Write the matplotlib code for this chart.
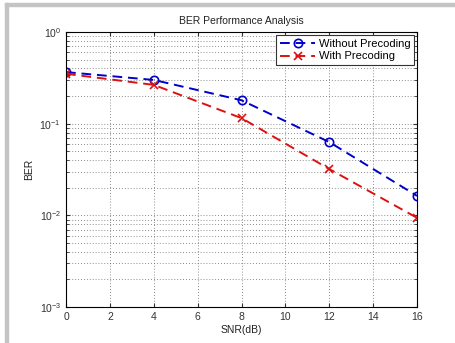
import matplotlib
matplotlib.use("Agg")
import matplotlib.pyplot as plt
from matplotlib.patches import Rectangle
from matplotlib.ticker import LogLocator, NullFormatter

plt.rcParams["font.family"] = ["Liberation Sans", "DejaVu Sans"]
plt.rcParams["mathtext.fontset"] = "custom"
plt.rcParams["mathtext.rm"] = "Liberation Sans"
plt.rcParams["mathtext.it"] = "Liberation Sans"

snr = [0, 4, 8, 12, 16]
ber_without = [0.365, 0.30, 0.180, 0.063, 0.0163]
ber_with = [0.350, 0.265, 0.115, 0.032, 0.0094]
xticks = [0, 2, 4, 6, 8, 10, 12, 14, 16]

fig = plt.figure(figsize=(4.55, 3.43), dpi=100)
fig.patch.set_facecolor("white")

# gray frame of the screenshot
fig.patches.append(Rectangle((5 / 455, 0), 3 / 455, 340 / 343, transform=fig.transFigure,
                             color="#c4c4c4", zorder=0))
fig.patches.append(Rectangle((5 / 455, 337 / 343), 450 / 455, 3 / 343, transform=fig.transFigure,
                             color="#c4c4c4", zorder=0))

ax = fig.add_axes([66 / 455, 36 / 343, 351 / 455, 275 / 343])
ax.semilogy(snr, ber_without, "--o", color="#0000cc", lw=1.4, ms=6, mfc="none",
            mew=1.2, label="Without Precoding", dashes=(5, 3))
ax.semilogy(snr, ber_with, "--x", color="#dd1111", lw=1.4, ms=6, mew=1.2,
            label="With Precoding", dashes=(5, 3))

ax.set_xlim(0, 16)
ax.set_ylim(1e-3, 1)
ax.set_xticks(xticks)
ax.yaxis.set_major_locator(LogLocator(base=10, numticks=10))
ax.yaxis.set_minor_locator(LogLocator(base=10, subs=range(2, 10), numticks=20))
ax.yaxis.set_minor_formatter(NullFormatter())
ax.tick_params(which="both", direction="in", top=True, right=True, labelsize=7.5,
               colors="#333333", length=3)
ax.tick_params(which="minor", length=2)
ax.grid(True, which="major", ls=(0, (1, 2.5)), color="#666666", lw=0.6)
ax.grid(True, which="minor", axis="y", ls=(0, (1, 2.5)), color="#666666", lw=0.6)
for s in ax.spines.values():
    s.set_linewidth(0.8)

ax.set_title("BER Performance Analysis", fontsize=7.5, color="#222222", pad=6)
ax.set_xlabel("SNR(dB)", fontsize=7.5, color="#222222", labelpad=2)
ax.set_ylabel("BER", fontsize=7.5, color="#222222", labelpad=4)

leg = ax.legend(loc="upper right", fontsize=8, fancybox=False, framealpha=1,
                edgecolor="#333333", handlelength=3.2, borderaxespad=0.3,
                borderpad=0.3, labelspacing=0.25, handletextpad=0.3)
leg.get_frame().set_linewidth(0.8)

fig.savefig("out.png", dpi=100, facecolor="white")
